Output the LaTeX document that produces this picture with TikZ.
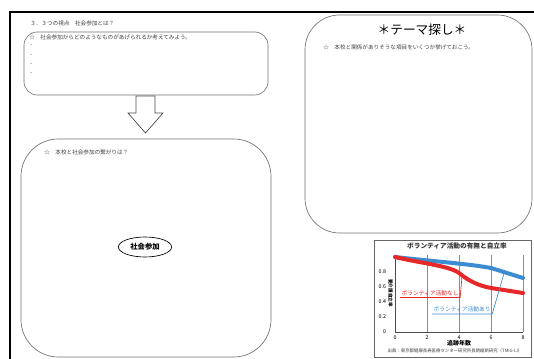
\documentclass[tikz,border=0pt]{standalone}
\usepackage{fontspec}
\newfontfamily\jp{Noto Sans CJK JP}
\usetikzlibrary{shapes.geometric}
\definecolor{boxgray}{gray}{0.45}
\definecolor{bline}{RGB}{60,140,210}
\definecolor{rline}{RGB}{230,40,40}
\tikzset{
  frame/.style={line width=1.3pt,black},
  qbox/.style={draw=boxgray,line width=0.5pt},
  small/.style={font=\jp\fontsize{4.2}{5}\selectfont,inner sep=0pt,anchor=west,text=black!75},
  ctext/.style={font=\jp\fontsize{4}{5}\selectfont,inner sep=0.5pt},
  grid/.style={draw=black!45,line width=0.3pt},
}
\begin{document}
\begin{tikzpicture}[x=0.75pt,y=-0.75pt]
\useasboundingbox (0,0) rectangle (534,359);
\fill[white] (0,0) rectangle (534,359);
% outer frame
\draw[frame] (10,359) -- (10,12) -- (534,12);
% heading
\node[small] (head) at (30,23) {３．３つの視点　社会参加とは？};
% top-left box
\draw[qbox,rounded corners=10pt] (24,32) rectangle (268,95);
\node[small] (q1) at (29,37.5) {☆　社会参加からどのようなものがあげられるか考えてみよう。};
\foreach \yy/\nm in {46/d1,56/d2,65/d3,74/d4}
  \node[small] (\nm) at (30,\yy) {-};
% block arrow
\draw[draw=black!70,fill=white,line width=0.5pt]
  (136,96) -- (136,113) -- (128,113) -- (145.5,133) -- (163,113) -- (155,113) -- (155,96) -- cycle;
% bottom-left big box
\draw[qbox,rounded corners=28pt] (21,139) rectangle (271,357);
\node[small] (q2) at (44,152.5) {☆　本校と社会参加の繋がりは？};
\node[draw=black,ellipse,line width=0.5pt,minimum width=40pt,minimum height=15pt,inner sep=0pt,
  font=\jp\bfseries\fontsize{5.5}{6}\selectfont] (sanka) at (145,247) {社会参加};
% right box
\draw[qbox,rounded corners=26pt] (305,15) rectangle (532,233);
\node[font=\jp\fontsize{9.5}{11}\selectfont,inner sep=0pt] (title) at (422,30) {＊テーマ探し＊};
\node[small] (q3) at (323,47.5) {☆　本校と関係がありそうな項目をいくつか挙げておこう。};
% chart
\draw[black!60,line width=0.5pt] (374,240) rectangle (531,357);
\node[font=\jp\bfseries\fontsize{5}{6}\selectfont,inner sep=0pt,text=black!80] (ctitle) at (457,246) {ボランティア活動の有無と自立率};
% grid
\foreach \t in {2,4,6,8}
  \draw[grid] ({395+16*\t},255) -- ({395+16*\t},332);
\draw[black!70,line width=0.4pt] (395,255) -- (395,332) -- (523,332);
\foreach \v/\lab in {0/0,0.2/0.2,0.4/0.4,0.6/0.6,0.8/0.8}
  \node[ctext,anchor=east] at (387,{332-75*\v}) {\lab};
\foreach \t in {0,2,4,6,8}
  \node[ctext] at ({395+16*\t},337.5) {\t};
\node[font=\jp\bfseries\fontsize{4.5}{5}\selectfont,inner sep=0pt] (xlab) at (459,343) {追跡年数};
\node[font=\jp\bfseries\fontsize{3.4}{4}\selectfont,inner sep=0pt,rotate=-90] (ylab) at (390.5,293) {要介護自立率};
\node[font=\jp\fontsize{3.3}{4}\selectfont,inner sep=0pt,text=black!75] (src) at (455,350.5) {出典：東京都健康長寿医療センター研究所長期縦断研究（TMIG-LI）};
% curves
\draw[bline,line width=3pt,line cap=round,line join=round]
  (395,257) .. controls (430,261) and (470,264) .. (491,268) -- (523,278);
\draw[rline,line width=3pt,line cap=round,line join=round]
  (395,257) .. controls (420,263) and (450,266) .. (459,273) .. controls (470,282) and (480,286) .. (491,288) -- (523,293);
% curve labels
\node[font=\jp\fontsize{4.3}{5}\selectfont,inner sep=1pt,text=rline,anchor=south west] (lnashi) at (400,297.5) {ボランティア活動なし};
\coordinate (rpt) at (462,276);
\draw[rline,line width=0.5pt] (lnashi.south west) -- (lnashi.south east) -- (rpt);
\node[font=\jp\fontsize{4.3}{5}\selectfont,inner sep=1pt,text=bline,anchor=south west] (lari) at (432,314) {ボランティア活動あり};
\coordinate (bpt) at (505,270);
\draw[bline,line width=0.5pt] (lari.south west) -- (lari.south east) -- (bpt);
\end{tikzpicture}
\end{document}
